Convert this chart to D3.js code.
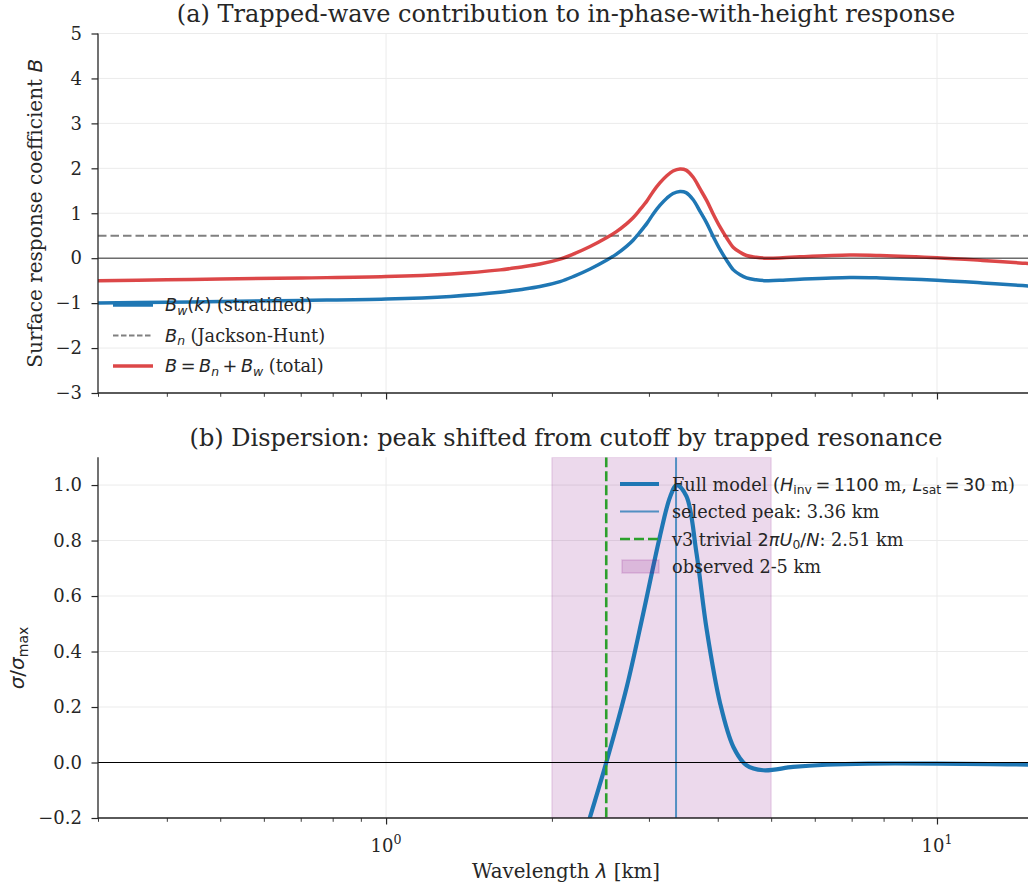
<!DOCTYPE html>
<html>
<head>
<meta charset="utf-8">
<script src="https://cdn.jsdelivr.net/npm/d3@7"></script>
<style>
  html, body { margin: 0; padding: 0; background: #fff; }
  svg { display: block; }
</style>
</head>
<body>
<svg id="chart" width="1028" height="888"></svg>
<script>
// ---------------- DATA ----------------
// Panel (a): wavelength [km] and surface response coefficients
const lambdaA = [0.30, 0.40, 0.50, 0.70, 1.00, 1.31, 1.611, 1.749, 1.902, 2.069, 2.186, 2.346, 2.517, 2.615, 2.735, 2.808, 2.89, 2.977, 3.052, 3.143, 3.236, 3.318, 3.416, 3.503, 3.61, 3.715, 3.82, 3.922, 4.04, 4.153, 4.27, 4.391, 4.51, 4.694, 4.91, 5.254, 5.64, 6.95, 7.88, 10.0, 12.1, 14.3, 15.0];
const Bw      = [-1.00, -0.98, -0.965, -0.94, -0.91, -0.85, -0.76, -0.70, -0.63, -0.52, -0.41, -0.24, -0.04, 0.085, 0.27, 0.40, 0.58, 0.78, 0.98, 1.18, 1.34, 1.44, 1.485, 1.46, 1.30, 1.04, 0.78, 0.49, 0.19, -0.05, -0.26, -0.37, -0.44, -0.48, -0.50, -0.49, -0.47, -0.43, -0.44, -0.49, -0.55, -0.61, -0.63];
const Btotal  = [-0.50, -0.48, -0.465, -0.44, -0.41, -0.35, -0.26, -0.20, -0.13, -0.02, 0.09, 0.26, 0.46, 0.585, 0.77, 0.90, 1.08, 1.28, 1.48, 1.68, 1.84, 1.94, 1.985, 1.96, 1.80, 1.54, 1.28, 0.99, 0.69, 0.45, 0.24, 0.13, 0.06, 0.02, 0.00, 0.01, 0.03, 0.07, 0.06, 0.01, -0.05, -0.11, -0.13];
const Bn = 0.5;

// Panel (b): normalised growth rate
const lambdaB = [2.20, 2.346, 2.517, 2.735, 2.93, 3.14, 3.28, 3.37, 3.51, 3.66, 3.82, 4.04, 4.27, 4.51, 4.84, 5.48, 6.3, 7.5, 10.0, 12.5, 15.0];
const sigma   = [-0.38, -0.196, 0.008, 0.273, 0.538, 0.814, 0.959, 1.00, 0.959, 0.754, 0.478, 0.213, 0.056, -0.010, -0.028, -0.016, -0.008, -0.004, -0.004, -0.006, -0.008];
const selectedPeak = 3.36;
const trivialCutoff = 2.51;
const observedBand = [2, 5];

// Axis ticks
const yTicksA = [-3, -2, -1, 0, 1, 2, 3, 4, 5];
const yTicksB = [-0.2, 0.0, 0.2, 0.4, 0.6, 0.8, 1.0];
const xMajor = [1, 10];
const xMinor = [0.3, 0.4, 0.5, 0.6, 0.7, 0.8, 0.9, 2, 3, 4, 5, 6, 7, 8, 9];

// ---------------- STYLE ----------------
const SERIF = "'DejaVu Serif', serif";
const SANS = "'DejaVu Sans', sans-serif";
const INK = "#262626";
const BLUE = "#1f77b4";
const RED = "#d62728";
const GREEN = "#2ca02c";
const GRID = "#ebebeb";
const FS_TITLE = 24, FS_TICK = 18, FS_LEG = 17.7, FS_LAB = 20;
const TS = "\u2009"; // thin space around math operators

const svg = d3.select("#chart");
const left = 98, right = 1034;
const x = d3.scaleLog().domain([0.3, 15]).range([left, right]);
const yA = d3.scaleLinear().domain([-3, 5]).range([393, 33.5]);
const yB = d3.scaleLinear().domain([-0.2, 1.1]).range([818, 457.3]);

function rich(sel, parts, size) {
  let cur = 0;
  parts.forEach(p => {
    const ts = sel.append("tspan").text(p.t)
      .style("font-family", p.s ? SANS : SERIF)
      .style("font-style", p.i ? "italic" : "normal");
    let target = 0, fs = size;
    if (p.sub) { target = size * 0.22; fs = size * 0.7; }
    if (p.sup) { target = -size * 0.42; fs = size * 0.7; }
    ts.style("font-size", fs + "px");
    if (target !== cur) { ts.attr("dy", target - cur); cur = target; }
  });
}

function grid(y, yTicks) {
  const g = svg.append("g");
  const [y0, y1] = y.range();
  g.selectAll("line.gy").data(yTicks).join("line").attr("class", "gy")
    .attr("x1", left).attr("x2", right)
    .attr("y1", d => y(d)).attr("y2", d => y(d))
    .attr("stroke", GRID).attr("stroke-width", 1);
  g.selectAll("line.gx").data(xMajor).join("line").attr("class", "gx")
    .attr("x1", d => x(d)).attr("x2", d => x(d))
    .attr("y1", y0).attr("y2", y1)
    .attr("stroke", GRID).attr("stroke-width", 1);
}

function axes(y, yTicks, yFmt, showXLabels) {
  const g = svg.append("g");
  const [y0, y1] = y.range();
  const ay = d3.axisLeft(y).tickValues(yTicks).tickSize(6.5).tickPadding(9.5).tickFormat(yFmt);
  const gy = g.append("g").attr("transform", `translate(${left},0)`).call(ay);
  gy.select(".domain").attr("d", `M0,${y0}V${y1}`).attr("stroke", INK).attr("stroke-width", 1.3);
  gy.selectAll(".tick line").attr("stroke", INK).attr("stroke-width", 1.2);
  gy.selectAll(".tick text").style("font-family", SERIF).style("font-size", FS_TICK + "px").attr("fill", INK);
  const ax = d3.axisBottom(x).tickValues(xMajor).tickSize(6.5).tickFormat("");
  const gx = g.append("g").attr("transform", `translate(0,${y0})`).call(ax);
  gx.select(".domain").attr("d", `M${left},0H${right}`).attr("stroke", INK).attr("stroke-width", 1.3);
  gx.selectAll(".tick line").attr("stroke", INK).attr("stroke-width", 1.2);
  const axm = d3.axisBottom(x).tickValues(xMinor).tickSize(3.8).tickFormat("");
  const gxm = g.append("g").attr("transform", `translate(0,${y0})`).call(axm);
  gxm.select(".domain").remove();
  gxm.selectAll(".tick line").attr("stroke", INK).attr("stroke-width", 0.9);
  if (showXLabels) {
    xMajor.forEach(v => {
      const t = g.append("text").attr("x", x(v)).attr("y", y0 + 33.5)
        .attr("text-anchor", "middle").attr("fill", INK);
      rich(t, [{t: "10"}, {t: String(Math.round(Math.log10(v))), sup: true}], FS_TICK);
    });
  }
}

const line = (xs, ys, y) => d3.line().curve(d3.curveCatmullRom.alpha(0.5))
  .x((d, i) => x(xs[i])).y((d, i) => y(ys[i]))(xs);

const defs = svg.append("defs");
defs.append("clipPath").attr("id", "clipA").append("rect")
  .attr("x", left).attr("y", yA(5)).attr("width", right - left).attr("height", yA(-3) - yA(5));
defs.append("clipPath").attr("id", "clipB").append("rect")
  .attr("x", left).attr("y", yB(1.1)).attr("width", right - left).attr("height", yB(-0.2) - yB(1.1));

// ---------------- PANEL A ----------------
grid(yA, yTicksA);
const pa = svg.append("g").attr("clip-path", "url(#clipA)");
pa.append("line").attr("x1", left).attr("x2", right).attr("y1", yA(Bn)).attr("y2", yA(Bn))
  .attr("stroke", "#808080").attr("stroke-width", 2).attr("stroke-dasharray", "8.5,4");
pa.append("path").attr("d", line(lambdaA, Bw, yA)).attr("fill", "none")
  .attr("stroke", BLUE).attr("stroke-width", 3.5);
pa.append("path").attr("d", line(lambdaA, Btotal, yA)).attr("fill", "none")
  .attr("stroke", RED).attr("stroke-opacity", 0.85).attr("stroke-width", 3.5);
pa.append("line").attr("x1", left).attr("x2", right).attr("y1", yA(0)).attr("y2", yA(0))
  .attr("stroke", "#000").attr("stroke-opacity", 0.55).attr("stroke-width", 1.4);
axes(yA, yTicksA, d => d < 0 ? "\u2212" + Math.abs(d) : String(d), false);

svg.append("text").attr("x", (left + right) / 2).attr("y", 22).attr("text-anchor", "middle")
  .style("font-family", SERIF).style("font-size", FS_TITLE + "px").attr("fill", INK)
  .text("(a) Trapped-wave contribution to in-phase-with-height response");
{
  const t = svg.append("text").attr("transform", `translate(41.5,${(yA(5) + yA(-3)) / 2}) rotate(-90)`)
    .attr("text-anchor", "middle").attr("fill", INK);
  rich(t, [{t: "Surface response coefficient "}, {t: "B", s: true, i: true}], FS_LAB);
}
{
  const lg = svg.append("g");
  const rows = [
    {stroke: BLUE, op: 1, w: 3.5, dash: null, parts: [{t: "B", s: 1, i: 1}, {t: "w", s: 1, i: 1, sub: 1}, {t: "(", s: 1}, {t: "k", s: 1, i: 1}, {t: ")", s: 1}, {t: " (stratified)"}]},
    {stroke: "#808080", op: 1, w: 2, dash: "5.5,2.5", parts: [{t: "B", s: 1, i: 1}, {t: "n", s: 1, i: 1, sub: 1}, {t: " (Jackson-Hunt)"}]},
    {stroke: RED, op: 0.85, w: 3.5, dash: null, parts: [{t: "B", s: 1, i: 1}, {t: TS + "=" + TS, s: 1}, {t: "B", s: 1, i: 1}, {t: "n", s: 1, i: 1, sub: 1}, {t: TS + "+" + TS, s: 1}, {t: "B", s: 1, i: 1}, {t: "w", s: 1, i: 1, sub: 1}, {t: " (total)"}]}
  ];
  rows.forEach((r, i) => {
    const cy = 305 + i * 30.5;
    lg.append("line").attr("x1", 113).attr("x2", 153).attr("y1", cy).attr("y2", cy)
      .attr("stroke", r.stroke).attr("stroke-opacity", r.op).attr("stroke-width", r.w)
      .attr("stroke-dasharray", r.dash);
    const t = lg.append("text").attr("x", 165).attr("y", cy + 6).attr("fill", INK);
    rich(t, r.parts, FS_LEG);
  });
}

// ---------------- PANEL B ----------------
grid(yB, yTicksB);
const pb = svg.append("g").attr("clip-path", "url(#clipB)");
pb.append("rect").attr("x", x(observedBand[0])).attr("width", x(observedBand[1]) - x(observedBand[0]))
  .attr("y", yB(1.1)).attr("height", yB(-0.2) - yB(1.1))
  .attr("fill", "purple").attr("fill-opacity", 0.15)
  .attr("stroke", "purple").attr("stroke-opacity", 0.12).attr("stroke-width", 1.5);
pb.append("path").attr("d", line(lambdaB, sigma, yB)).attr("fill", "none")
  .attr("stroke", BLUE).attr("stroke-width", 4.2);
pb.append("line").attr("x1", x(selectedPeak)).attr("x2", x(selectedPeak)).attr("y1", yB(1.1)).attr("y2", yB(-0.2))
  .attr("stroke", BLUE).attr("stroke-opacity", 0.75).attr("stroke-width", 2);
pb.append("line").attr("x1", x(trivialCutoff)).attr("x2", x(trivialCutoff)).attr("y1", yB(1.1)).attr("y2", yB(-0.2))
  .attr("stroke", GREEN).attr("stroke-width", 2.6).attr("stroke-dasharray", "10,4");
pb.append("line").attr("x1", left).attr("x2", right).attr("y1", yB(0)).attr("y2", yB(0))
  .attr("stroke", "#000").attr("stroke-width", 1);
axes(yB, yTicksB, d => (d < 0 ? "\u2212" : "") + Math.abs(d).toFixed(1), true);

svg.append("text").attr("x", (left + right) / 2).attr("y", 446).attr("text-anchor", "middle")
  .style("font-family", SERIF).style("font-size", FS_TITLE + "px").attr("fill", INK)
  .text("(b) Dispersion: peak shifted from cutoff by trapped resonance");
{
  const t = svg.append("text").attr("transform", `translate(23.5,658) rotate(-90)`)
    .attr("text-anchor", "middle").attr("fill", INK);
  rich(t, [{t: "σ", s: 1, i: 1}, {t: "/", s: 1}, {t: "σ", s: 1, i: 1}, {t: "max", s: 1, sub: 1}], FS_LAB);
}
{
  const t = svg.append("text").attr("x", (left + right) / 2).attr("y", 878)
    .attr("text-anchor", "middle").attr("fill", INK);
  rich(t, [{t: "Wavelength "}, {t: "λ", s: 1, i: 1}, {t: " [km]"}], 19.8);
}
{
  const lg = svg.append("g");
  const rows = [
    {type: "line", stroke: BLUE, op: 1, w: 4.2, parts: [{t: "Full model ("}, {t: "H", s: 1, i: 1}, {t: "inv", s: 1, sub: 1}, {t: TS + "=" + TS + "1100", s: 1}, {t: " m, "}, {t: "L", s: 1, i: 1}, {t: "sat", s: 1, sub: 1}, {t: TS + "=" + TS + "30", s: 1}, {t: " m)"}]},
    {type: "line", stroke: BLUE, op: 0.75, w: 2, parts: [{t: "selected peak: 3.36 km"}]},
    {type: "line", stroke: GREEN, op: 1, w: 2.6, dash: "10,4", parts: [{t: "v3 trivial "}, {t: "2", s: 1}, {t: "π", s: 1, i: 1}, {t: "U", s: 1, i: 1}, {t: "0", s: 1, sub: 1}, {t: "/", s: 1}, {t: "N", s: 1, i: 1}, {t: ": 2.51 km"}]},
    {type: "patch", parts: [{t: "observed 2-5 km"}]}
  ];
  rows.forEach((r, i) => {
    const cy = 484 + i * 27.5;
    if (r.type === "line") {
      lg.append("line").attr("x1", 620).attr("x2", 659).attr("y1", cy).attr("y2", cy)
        .attr("stroke", r.stroke).attr("stroke-opacity", r.op).attr("stroke-width", r.w)
        .attr("stroke-dasharray", r.dash || null);
    } else {
      lg.append("rect").attr("x", 622).attr("y", cy - 6.5).attr("width", 37).attr("height", 13)
        .attr("fill", "purple").attr("fill-opacity", 0.15)
        .attr("stroke", "purple").attr("stroke-opacity", 0.15).attr("stroke-width", 1.5);
    }
    const t = lg.append("text").attr("x", 672).attr("y", cy + 6.5).attr("fill", INK);
    rich(t, r.parts, FS_LEG);
  });
}
</script>
</body>
</html>
